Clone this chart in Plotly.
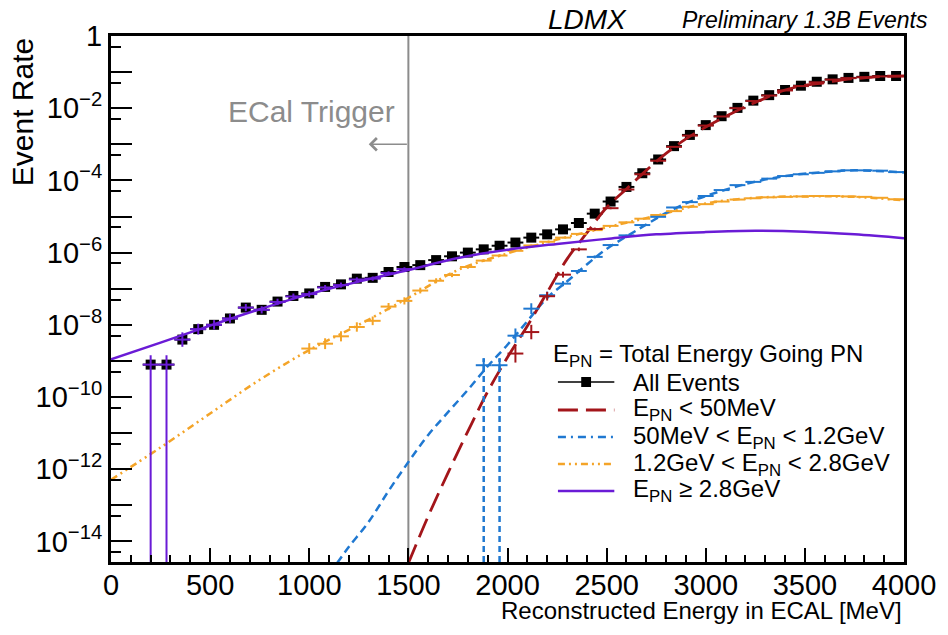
import plotly.graph_objects as go

# ---------------- data ----------------
HALF_BIN = 40  # MeV (histogram bins are 80 MeV wide)

# All events (black squares)
black_x = [200, 280, 360, 440, 520, 600, 680, 760, 840, 920, 1000, 1080, 1160, 1240, 1320, 1400,
           1480, 1560, 1640, 1720, 1800, 1880, 1960, 2040, 2120, 2200, 2280, 2360, 2440, 2520,
           2600, 2680, 2760, 2840, 2920, 3000, 3080, 3160, 3240, 3320, 3400, 3480, 3560, 3640,
           3720, 3800, 3880, 3960]
black_y = [7.9e-10, 7.9e-10, 3.9e-9, 7.6e-9, 1.0e-8, 1.5e-8, 3.0e-8, 2.6e-8, 4.4e-8, 6.3e-8,
           7.4e-8, 1.12e-7, 1.32e-7, 1.9e-7, 2.0e-7, 2.9e-7, 4.0e-7, 4.5e-7, 6.2e-7, 7.9e-7,
           1.0e-6, 1.23e-6, 1.55e-6, 1.9e-6, 2.6e-6, 3.2e-6, 4.4e-6, 6.6e-6, 1.2e-5, 2.6e-5,
           6.6e-5, 1.58e-4, 3.8e-4, 8.9e-4, 1.82e-3, 3.4e-3, 6.0e-3, 1.02e-2, 1.62e-2, 2.3e-2,
           3.2e-2, 4.2e-2, 5.4e-2, 6.3e-2, 6.9e-2, 7.4e-2, 7.8e-2, 7.8e-2]

# E_PN < 50 MeV (red)
red_x = [2040, 2120, 2200, 2280, 2360, 2440, 2520, 2600, 2680, 2760, 2840, 2920, 3000, 3080,
         3160, 3240, 3320, 3400, 3480, 3560, 3640, 3720, 3800, 3880, 3960]
red_y = [1.6e-9, 6.3e-9, 6.2e-8, 2.45e-7, 1.23e-6, 4.5e-6, 1.7e-5, 5.6e-5, 1.48e-4, 3.5e-4,
         8.5e-4, 1.74e-3, 3.3e-3, 5.9e-3, 1.0e-2, 1.58e-2, 2.24e-2, 3.1e-2, 4.1e-2, 5.2e-2,
         6.2e-2, 6.8e-2, 7.2e-2, 7.6e-2, 7.6e-2]
red_err_dex = [0.25, 0.2, 0.12, 0.08, 0.05, 0.04, 0.03, 0.02, 0.02, 0.01, 0.01, 0.01, 0, 0,
               0, 0, 0, 0, 0, 0, 0, 0, 0, 0, 0]
red_fit_x = [1500, 1600, 1700, 1800, 1900, 2000, 2100, 2200, 2300, 2400, 2500, 2600, 2700,
             2800, 2900, 3000, 3100, 3200, 3300, 3400, 3500, 3600, 3700, 3800, 3900, 4000]
red_fit_y = [2.5e-15, 5.0e-14, 7.9e-13, 1.12e-11, 1.41e-10, 1.26e-9, 9.3e-9, 7.9e-8, 6.6e-7,
             3.5e-6, 1.78e-5, 5.8e-5, 1.9e-4, 5.6e-4, 1.41e-3, 3.0e-3, 5.9e-3, 1.1e-2, 1.9e-2,
             3.2e-2, 4.3e-2, 5.1e-2, 6.2e-2, 6.9e-2, 7.6e-2, 7.9e-2]

# 50 MeV < E_PN < 1.2 GeV (blue)
blue_x = [1880, 1960, 2040, 2120, 2200, 2280, 2360, 2440, 2520, 2600, 2680, 2760, 2840, 2920,
          3000, 3080, 3160, 3240, 3320, 3400, 3480, 3560, 3640, 3720, 3800, 3880, 3960]
blue_y = [7.6e-10, 7.6e-10, 5.0e-9, 2.8e-8, 6.6e-8, 1.38e-7, 3.1e-7, 7.6e-7, 1.62e-6, 3.0e-6,
          5.8e-6, 9.8e-6, 1.78e-5, 2.5e-5, 3.7e-5, 5.4e-5, 7.4e-5, 9.1e-5, 1.12e-4, 1.32e-4,
          1.48e-4, 1.62e-4, 1.78e-4, 1.9e-4, 1.9e-4, 1.86e-4, 1.7e-4]
blue_err_dex = [0.19, 0.19, 0.2, 0.15, 0.1, 0.07, 0.05, 0.04, 0.03, 0.02, 0.02, 0.01, 0.01, 0.01,
                0, 0, 0, 0, 0, 0, 0, 0, 0, 0, 0, 0, 0]
blue_zero_bins = [1880, 1960]  # lower error reaches zero
blue_fit_x = [1140, 1200, 1300, 1400, 1500, 1600, 1700, 1800, 1900, 2000, 2100, 2200, 2300,
              2400, 2500, 2600, 2700, 2800, 2900, 3000, 3200, 3400, 3600, 3750, 4000]
blue_fit_y = [2.5e-15, 7.1e-15, 3.5e-14, 2.5e-13, 1.58e-12, 8.9e-12, 3.8e-11, 1.58e-10, 7.1e-10,
              2.8e-9, 1.26e-8, 5.6e-8, 1.58e-7, 4.7e-7, 1.26e-6, 2.8e-6, 6.0e-6, 1.26e-5, 2.3e-5,
              3.7e-5, 7.9e-5, 1.32e-4, 1.7e-4, 1.9e-4, 1.66e-4]

# 1.2 GeV < E_PN < 2.8 GeV (orange)
orange_x = [1000, 1080, 1160, 1240, 1320, 1400, 1480, 1560, 1640, 1720, 1800, 1880, 1960, 2040,
            2120, 2200, 2280, 2360, 2440, 2520, 2600, 2680, 2760, 2840, 2920, 3000, 3080, 3160,
            3240, 3320, 3400, 3480, 3560, 3640, 3720, 3800, 3880, 3960]
orange_y = [2.2e-9, 3.0e-9, 4.8e-9, 8.7e-9, 1.29e-8, 3.2e-8, 4.6e-8, 8.9e-8, 1.66e-7, 2.4e-7,
            4.0e-7, 6.0e-7, 8.3e-7, 1.12e-6, 1.58e-6, 2.0e-6, 2.6e-6, 3.3e-6, 4.2e-6, 5.5e-6,
            6.9e-6, 8.7e-6, 1.1e-5, 1.41e-5, 1.86e-5, 2.2e-5, 2.6e-5, 2.95e-5, 3.2e-5, 3.4e-5,
            3.5e-5, 3.6e-5, 3.7e-5, 3.7e-5, 3.6e-5, 3.5e-5, 3.3e-5, 3.0e-5]
orange_err_dex = [0.15, 0.15, 0.14, 0.13, 0.12, 0.1, 0.1, 0.08, 0.07, 0.06, 0.05, 0.04, 0.04,
                  0.03, 0.03, 0.02, 0.02, 0.02, 0.01, 0.01, 0.01, 0.01, 0, 0, 0, 0, 0, 0, 0, 0,
                  0, 0, 0, 0, 0, 0, 0, 0]
orange_fit_x = [0, 250, 500, 750, 1000, 1250, 1500, 1750, 2000, 2250, 2500, 2750, 3000, 3250,
                3500, 3750, 4000]
orange_fit_y = [5.1e-13, 4.0e-12, 3.5e-11, 3.0e-10, 2.0e-9, 1.0e-8, 5.6e-8, 3.3e-7, 9.5e-7,
                2.3e-6, 5.0e-6, 1.05e-5, 2.3e-5, 3.3e-5, 3.6e-5, 3.5e-5, 2.8e-5]

# E_PN >= 2.8 GeV (purple)
purple_x = [200, 280, 360, 440, 520, 600, 680, 760, 840, 920, 1000, 1080, 1160, 1240, 1320,
            1400, 1480]
purple_y = [7.9e-10, 7.9e-10, 3.9e-9, 7.6e-9, 1.0e-8, 1.5e-8, 3.0e-8, 2.6e-8, 4.3e-8, 6.1e-8,
            7.1e-8, 1.08e-7, 1.26e-7, 1.8e-7, 1.9e-7, 2.7e-7, 3.5e-7]
purple_err_dex = [0.26, 0.26, 0.2, 0.15, 0.13, 0.12, 0.1, 0.1, 0.09, 0.08, 0.08, 0.07, 0.07,
                  0.06, 0.06, 0.05, 0.05]
purple_zero_bins = [200, 280]
purple_fit_x = [0, 250, 500, 750, 1000, 1250, 1500, 1750, 2000, 2250, 2500, 2750, 3000, 3250,
                3500, 3750, 4000]
purple_fit_y = [1.1e-9, 3.2e-9, 9.5e-9, 2.7e-8, 7.1e-8, 1.58e-7, 3.3e-7, 7.1e-7, 1.2e-6,
                1.74e-6, 2.4e-6, 3.2e-6, 3.7e-6, 4.0e-6, 3.8e-6, 3.2e-6, 2.5e-6]

TRIGGER_E = 1500

x_tickvals = [0, 500, 1000, 1500, 2000, 2500, 3000, 3500, 4000]
x_ticktext = ["0", "500", "1000", "1500", "2000", "2500", "3000", "3500", "4000"]
y_label_exponents = [0, -2, -4, -6, -8, -10, -12, -14]
y_label_text = ["1", "10<sup>\u22122</sup>", "10<sup>\u22124</sup>", "10<sup>\u22126</sup>",
                "10<sup>\u22128</sup>", "10<sup>\u221210</sup>", "10<sup>\u221212</sup>",
                "10<sup>\u221214</sup>"]
y_unlabeled_exponents = [-1, -3, -5, -7, -9, -11, -13]

# ---------------- styles ----------------
C_BLACK = "#000000"
C_RED = "#a3151a"
C_BLUE = "#1f78d1"
C_ORANGE = "#f4a428"
C_PURPLE = "#6a1bd6"
C_GREY = "#8c8c8c"
FONT = "Liberation Sans, Arial, Helvetica, sans-serif"
Y_LOG_MIN = -14.57

DASH_RED = "20px,8px"
DASH_BLUE = "8px,5px"
DASH_ORANGE = "7px,4px,2px,4px,2px,4px"


def err_bars(vals, dex, zero_bins=None, xs=None):
    plus = [v * (10 ** d - 1) for v, d in zip(vals, dex)]
    minus = [v * (1 - 10 ** (-d)) for v, d in zip(vals, dex)]
    if zero_bins:
        for i, x in enumerate(xs):
            if x in zero_bins:
                minus[i] = vals[i]
    return plus, minus


fig = go.Figure()

# black: all events
fig.add_trace(go.Scatter(
    x=black_x, y=black_y, mode="markers",
    marker=dict(symbol="square", size=10, color=C_BLACK),
    error_x=dict(type="constant", value=HALF_BIN, color=C_BLACK, thickness=2, width=0),
    name="All Events"))

# fit curves
fig.add_trace(go.Scatter(x=orange_fit_x, y=orange_fit_y, mode="lines", line_shape="spline",
                         line=dict(color=C_ORANGE, width=2.5, dash=DASH_ORANGE)))
fig.add_trace(go.Scatter(x=blue_fit_x, y=blue_fit_y, mode="lines", line_shape="spline",
                         line=dict(color=C_BLUE, width=2.5, dash=DASH_BLUE)))
fig.add_trace(go.Scatter(x=red_fit_x, y=red_fit_y, mode="lines", line_shape="spline",
                         line=dict(color=C_RED, width=2.8, dash=DASH_RED)))

# histogram crosses
for xs, ys, dex, col, zb in [
        (orange_x, orange_y, orange_err_dex, C_ORANGE, None),
        (blue_x, blue_y, blue_err_dex, C_BLUE, None),
        (red_x, red_y, red_err_dex, C_RED, None),
        (purple_x, purple_y, purple_err_dex, C_PURPLE, purple_zero_bins)]:
    p, m = err_bars(ys, dex, zb, xs)
    fig.add_trace(go.Scatter(
        x=xs, y=ys, mode="markers", marker=dict(size=1, color=col, opacity=0),
        error_x=dict(type="constant", value=HALF_BIN, color=col, thickness=2, width=0),
        error_y=dict(type="data", array=p, arrayminus=m, color=col, thickness=2, width=0)))

# blue bins whose lower error reaches zero: dashed error lines down to the axis floor
for xb in blue_zero_bins:
    i = blue_x.index(xb)
    top = blue_y[i] * 10 ** blue_err_dex[i]
    fig.add_trace(go.Scatter(x=[xb, xb], y=[10 ** Y_LOG_MIN, top], mode="lines",
                             line=dict(color=C_BLUE, width=2.5, dash="6px,4px")))

# purple fit drawn on the overlay axis (same scale) which also carries the unlabeled decade ticks
fig.add_trace(go.Scatter(x=purple_fit_x, y=purple_fit_y, mode="lines", line_shape="spline",
                         line=dict(color=C_PURPLE, width=2.5), yaxis="y2"))

fig.update_traces(showlegend=False)

# trigger line
fig.add_shape(type="line", xref="x", yref="paper", x0=TRIGGER_E, x1=TRIGGER_E, y0=0, y1=1,
              line=dict(color=C_GREY, width=2), layer="below")

annotations = [
    dict(text="ECal Trigger", xref="x", yref="y", x=1442, y=-2.08, xanchor="right",
         yanchor="middle", showarrow=False, font=dict(size=30, color=C_GREY, family=FONT)),
    dict(text="", xref="x", yref="y", x=1300, y=-3.0, axref="x", ayref="y", ax=TRIGGER_E,
         ay=-3.0, showarrow=True, arrowhead=4, arrowsize=1.6, arrowwidth=1.5,
         arrowcolor=C_GREY, standoff=0, startstandoff=0),
    dict(text="<i>LDMX</i>", xref="paper", yref="paper", x=0.601, y=1.031, xanchor="center",
         yanchor="middle", showarrow=False, font=dict(size=28, family=FONT)),
    dict(text="<i>Preliminary 1.3B Events</i>", xref="paper", yref="paper", x=0.718, y=1.030,
         xanchor="left", yanchor="middle", showarrow=False, font=dict(size=23, family=FONT)),
    dict(text="Reconstructed Energy in ECAL [MeV]", xref="paper", yref="paper", x=1.0,
         y=-0.093, xanchor="right", yanchor="middle", showarrow=False,
         font=dict(size=24, family=FONT)),
    dict(text="Event Rate", xref="paper", yref="paper", x=-0.112, y=1.0, xanchor="center",
         yanchor="top", textangle=-90, showarrow=False, font=dict(size=30, family=FONT)),
]

# legend (drawn by hand, ROOT style)
LX0, LX1, LTX = 0.5636, 0.6347, 0.6559
rows = [0.3422, 0.2890, 0.2376, 0.1863, 0.1350]
annotations.append(dict(text="E<sub>PN</sub> = Total Energy Going PN", xref="paper",
                        yref="paper", x=0.5549, y=0.3935, xanchor="left", yanchor="middle",
                        showarrow=False, font=dict(size=24, family=FONT)))
labels = ["All Events", "E<sub>PN</sub> < 50MeV", "50MeV < E<sub>PN</sub> < 1.2GeV",
          "1.2GeV < E<sub>PN</sub> < 2.8GeV", "E<sub>PN</sub> \u2265 2.8GeV"]
styles = [(C_BLACK, 1.5, "solid"), (C_RED, 2.8, DASH_RED), (C_BLUE, 2.5, "8px,5px,2px,5px"),
          (C_ORANGE, 2.5, DASH_ORANGE), (C_PURPLE, 2.5, "solid")]
for yy, lab, (col, w, d) in zip(rows, labels, styles):
    fig.add_shape(type="line", xref="paper", yref="paper", x0=LX0, x1=LX1, y0=yy, y1=yy,
                  line=dict(color=col, width=w, dash=d))
    annotations.append(dict(text=lab, xref="paper", yref="paper", x=LTX, y=yy,
                            xanchor="left", yanchor="middle", showarrow=False,
                            font=dict(size=24, family=FONT)))
xm = (LX0 + LX1) / 2
fig.add_shape(type="rect", xref="paper", yref="paper", x0=xm - 0.0062, x1=xm + 0.0062,
              y0=rows[0] - 0.0095, y1=rows[0] + 0.0095, fillcolor=C_BLACK, line_width=0)

# the page body adds an 8 px margin, so the figure is 8 px smaller than the window
fig.update_layout(
    width=940, height=627, margin=dict(l=103, r=35, t=28, b=73),
    plot_bgcolor="white", paper_bgcolor="white", showlegend=False,
    font=dict(family=FONT, size=24, color="black"),
    annotations=annotations,
)
fig.update_xaxes(
    range=[0, 4000], showgrid=False, zeroline=False, showline=True, linewidth=3,
    linecolor="black", mirror=True, ticks="inside", ticklen=14, tickwidth=1.5,
    tickcolor="black", tickmode="array", tickvals=x_tickvals, ticktext=x_ticktext,
    tickfont=dict(size=29, family=FONT), ticklabelstandoff=-5,
    minor=dict(tickmode="array", tickvals=list(range(100, 4000, 100)), ticklen=7,
               tickwidth=1.5, tickcolor="black", ticks="inside", showgrid=False))
fig.update_layout(
    yaxis=dict(
        type="log", range=[Y_LOG_MIN, 0], showgrid=False, zeroline=False, showline=True,
        linewidth=3, linecolor="black", mirror=True, ticks="inside", ticklen=21,
        tickwidth=1.5, tickcolor="black", tickmode="array",
        tickvals=[10.0 ** e for e in y_label_exponents], ticktext=y_label_text,
        tickfont=dict(size=29, family=FONT),
        minor=dict(tickmode="array",
                   tickvals=[5 * 10.0 ** (e - 1) for e in y_label_exponents + y_unlabeled_exponents],
                   ticklen=10, tickwidth=1.5, tickcolor="black", ticks="inside",
                   showgrid=False)),
    yaxis2=dict(
        type="log", range=[Y_LOG_MIN, 0], overlaying="y", side="left", anchor="x",
        showgrid=False, zeroline=False, showline=False, showticklabels=False,
        ticks="inside", ticklen=21, tickwidth=1.5, tickcolor="black", tickmode="array",
        tickvals=[10.0 ** e for e in y_unlabeled_exponents]),
)

fig.write_html("out.html")
